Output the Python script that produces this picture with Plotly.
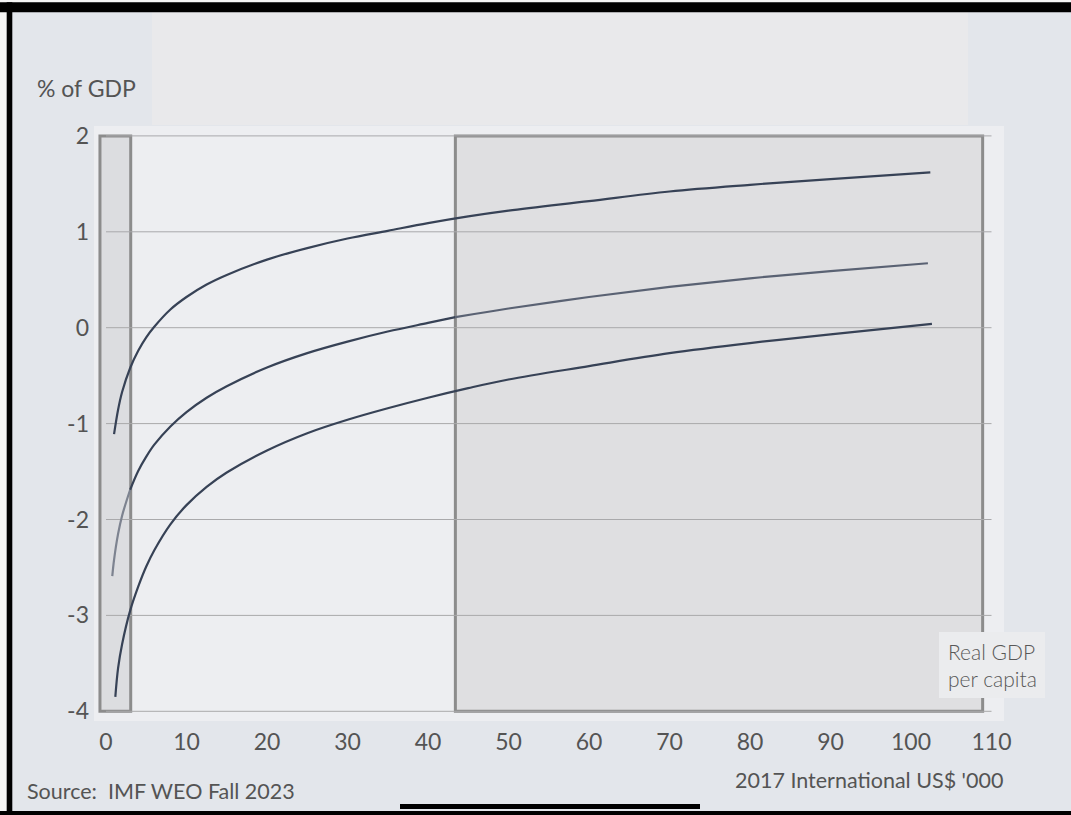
import plotly.graph_objects as go

# ---- data: fiscal effect (% of GDP) against real GDP per capita ('000, 2017 intl US$) ----
upper_x = [1.0, 1.5, 2, 3, 4, 5, 6, 8, 10, 12.5, 15, 20, 25, 30, 35, 40, 45, 50, 60, 70, 80, 90, 102.4]
upper_y = [-1.11, -0.855, -0.67, -0.42, -0.24, -0.10, 0.01, 0.19, 0.32, 0.45, 0.55, 0.71, 0.83,
           0.93, 1.01, 1.09, 1.16, 1.22, 1.32, 1.42, 1.49, 1.55, 1.62]

middle_x = [0.78, 1, 1.5, 2, 3, 4, 5, 6, 8, 10, 12.5, 15, 20, 25, 30, 35, 40, 43.4, 50, 60, 70, 80, 90, 102.1]
middle_y = [-2.59, -2.42, -2.15, -1.96, -1.69, -1.495, -1.345, -1.22, -1.03, -0.88, -0.73, -0.61,
            -0.415, -0.265, -0.145, -0.04, 0.05, 0.11, 0.20, 0.32, 0.425, 0.515, 0.59, 0.672]

lower_x = [1.16, 1.5, 2, 3, 4, 5, 6, 8, 10, 12.5, 15, 20, 25, 30, 35, 40, 45, 50, 60, 70, 80, 90, 102.6]
lower_y = [-3.85, -3.55, -3.30, -2.95, -2.70, -2.49, -2.32, -2.05, -1.85, -1.66, -1.51, -1.28, -1.10,
           -0.96, -0.84, -0.73, -0.63, -0.54, -0.40, -0.265, -0.16, -0.07, 0.04]

# income bands highlighted on the chart
low_band = [-0.75, 3.07]
high_band = [43.4, 108.9]

y_ticks = [-4, -3, -2, -1, 0, 1, 2]
y_ticktext = ["-4", "-3", "-2", "-1", "0", "1", "2"]
x_ticks = [0, 10, 20, 30, 40, 50, 60, 70, 80, 90, 100, 110]

# ---- layout geometry ----
W, H = 1071, 815
ML, MR, MT, MB = 94, 67, 126, 94
PW, PH = W - ML - MR, H - MT - MB
X0_PX, X_SCALE = 106.0, 8.05
Y0_PX, Y_SCALE = 327.7, 95.9
x_range = [-(X0_PX - ML) / X_SCALE, -(X0_PX - ML) / X_SCALE + PW / X_SCALE]
y_range = [(Y0_PX - (H - MB)) / Y_SCALE, (Y0_PX - MT) / Y_SCALE]


def px(xp):
    return (xp - ML) / PW


def py(yp):
    return (H - MB - yp) / PH


FONT = "Lato"
TEXT_COL = "#545454"
DARK = "#374256"
PAPER = "#e3e6eb"

fig = go.Figure()


def add_line(xs, ys, color, width=2.2):
    fig.add_trace(go.Scatter(
        x=xs, y=ys, mode="lines",
        line=dict(color=color, width=width, shape="spline", smoothing=1.0),
        hoverinfo="skip", showlegend=False,
    ))


add_line(upper_x, upper_y, DARK)
add_line(lower_x, lower_y, DARK)

# middle curve is shaded differently inside and outside the bands
i_lo = middle_x.index(3)
i_hi = middle_x.index(43.4)
add_line(middle_x[: i_lo + 1], middle_y[: i_lo + 1], "#7d8390")
add_line(middle_x[i_lo: i_hi + 1], middle_y[i_lo: i_hi + 1], DARK)
add_line(middle_x[i_hi:], middle_y[i_hi:], "#5a6273")

shapes = []

# background panels
shapes.append(dict(type="rect", xref="paper", yref="paper", layer="below",
                   x0=px(152), x1=px(968), y0=py(125), y1=py(12),
                   fillcolor="#e9e9eb", line_width=0))

# band rectangles
for band, fill in ((low_band, "#dcdde0"), (high_band, "#dfdfe1")):
    shapes.append(dict(type="rect", xref="x", yref="y", layer="below",
                       x0=band[0], x1=band[1], y0=-4, y1=2,
                       fillcolor=fill, line=dict(color="#8c8c8c", width=3)))

# horizontal grid lines
for v in y_ticks:
    shapes.append(dict(type="line", xref="x", yref="y", layer="below",
                       x0=0, x1=110, y0=v, y1=v,
                       line=dict(color="#a9a9ab", width=1)))

# label box at the lower right
shapes.append(dict(type="rect", xref="paper", yref="paper", layer="above",
                   x0=px(939), x1=px(1045), y0=py(698), y1=py(632),
                   fillcolor="#ebecee", line_width=0))

# right margin strip
shapes.append(dict(type="rect", xref="paper", yref="paper", layer="above",
                   x0=px(1056), x1=px(W + 2), y0=py(811), y1=py(12.3),
                   fillcolor=PAPER, line_width=0))

# frame edges
shapes.append(dict(type="rect", xref="paper", yref="paper", layer="above",
                   x0=px(0), x1=px(W), y0=py(2.3), y1=py(0),
                   fillcolor="#f4f4f4", line_width=0))
shapes.append(dict(type="rect", xref="paper", yref="paper", layer="above",
                   x0=px(0), x1=px(6.7), y0=py(H), y1=py(0),
                   fillcolor="#f4f4f4", line_width=0))
shapes.append(dict(type="rect", xref="paper", yref="paper", layer="above",
                   x0=px(0), x1=px(W), y0=py(12.3), y1=py(2.3),
                   fillcolor="#000000", line_width=0))
shapes.append(dict(type="rect", xref="paper", yref="paper", layer="above",
                   x0=px(6.7), x1=px(12.3), y0=py(H), y1=py(2.3),
                   fillcolor="#000000", line_width=0))
shapes.append(dict(type="rect", xref="paper", yref="paper", layer="above",
                   x0=px(0), x1=px(W), y0=py(H), y1=py(811),
                   fillcolor="#000000", line_width=0))
shapes.append(dict(type="line", xref="paper", yref="paper", layer="above",
                   x0=px(400), x1=px(700), y0=py(806.5), y1=py(806.5),
                   line=dict(color="#000000", width=5)))

annotations = [
    dict(text="% of GDP", xref="paper", yref="paper", x=px(35), y=py(88),
         xanchor="left", yanchor="middle", showarrow=False,
         font=dict(family=FONT, size=23, color=TEXT_COL)),
    dict(text="Source:  IMF WEO Fall 2023", xref="paper", yref="paper",
         x=px(25), y=py(791), xanchor="left", yanchor="middle", showarrow=False,
         font=dict(family=FONT, size=21.5, color=TEXT_COL)),
    dict(text="2017 International US$ '000", xref="paper", yref="paper",
         x=px(1005), y=py(780), xanchor="right", yanchor="middle", showarrow=False,
         font=dict(family=FONT, size=21.5, color=TEXT_COL)),
    dict(text="Real GDP<br>per capita", xref="paper", yref="paper",
         x=px(946), y=py(665), xanchor="left", yanchor="middle", align="left",
         showarrow=False,
         font=dict(family=FONT, size=21, color="#585858", weight=300)),
]

fig.update_layout(
    width=W, height=H,
    margin=dict(l=ML, r=MR, t=MT, b=MB, pad=0),
    paper_bgcolor=PAPER,
    plot_bgcolor="#edeef1",
    shapes=shapes,
    annotations=annotations,
    showlegend=False,
    xaxis=dict(range=x_range, tickvals=x_ticks, showgrid=False, zeroline=False,
               showline=False, ticks="", ticklabelstandoff=5,
               tickfont=dict(family=FONT, size=23, color=TEXT_COL), fixedrange=True),
    yaxis=dict(range=y_range, tickvals=y_ticks, ticktext=y_ticktext, showgrid=False,
               zeroline=False, showline=False, ticks="", ticklabelstandoff=4,
               tickfont=dict(family=FONT, size=23, color=TEXT_COL), fixedrange=True),
)

fig.write_html("out.html", config={"displayModeBar": False})
